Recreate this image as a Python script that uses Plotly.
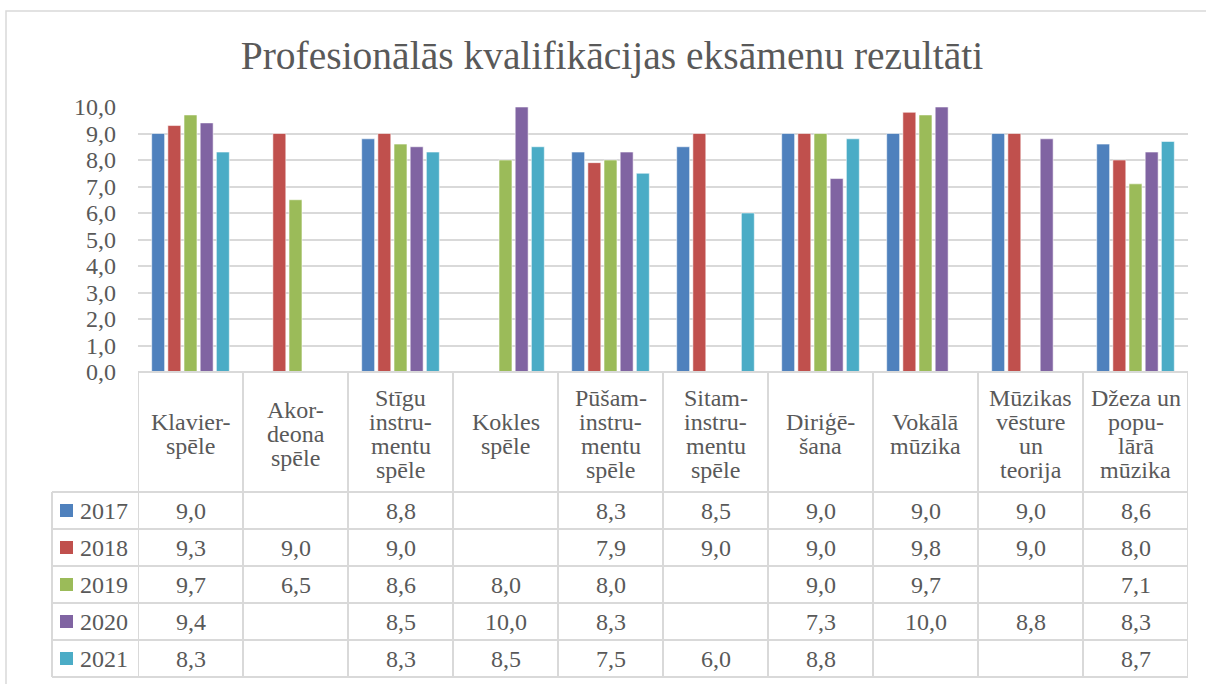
import plotly.graph_objects as go

# ---- data ----
categories = ["Klavierspēle", "Akordeona spēle", "Stīgu instrumentu spēle", "Kokles spēle",
              "Pūšaminstrumentu spēle", "Sitaminstrumentu spēle", "Diriģēšana",
              "Vokālā mūzika", "Mūzikas vēsture un teorija", "Džeza un populārā mūzika"]
header_labels = ["Klavier-<br>spēle", "Akor-<br>deona<br>spēle", "Stīgu<br>instru-<br>mentu<br>spēle",
                 "Kokles<br>spēle", "Pūšam-<br>instru-<br>mentu<br>spēle",
                 "Sitam-<br>instru-<br>mentu<br>spēle", "Diriģē-<br>šana", "Vokālā<br>mūzika",
                 "Mūzikas<br>vēsture<br>un<br>teorija", "Džeza un<br>popu-<br>lārā<br>mūzika"]
years = ["2017", "2018", "2019", "2020", "2021"]
v2017 = [9.0, None, 8.8, None, 8.3, 8.5, 9.0, 9.0, 9.0, 8.6]
v2018 = [9.3, 9.0, 9.0, None, 7.9, 9.0, 9.0, 9.8, 9.0, 8.0]
v2019 = [9.7, 6.5, 8.6, 8.0, 8.0, None, 9.0, 9.7, None, 7.1]
v2020 = [9.4, None, 8.5, 10.0, 8.3, None, 7.3, 10.0, 8.8, 8.3]
v2021 = [8.3, None, 8.3, 8.5, 7.5, 6.0, 8.8, None, None, 8.7]
series = [v2017, v2018, v2019, v2020, v2021]
colors = ["#4F81BD", "#C0504D", "#9BBB59", "#8064A2", "#4BACC6"]
y_ticks = [0, 1, 2, 3, 4, 5, 6, 7, 8, 9, 10]
title_text = "Profesionālās kvalifikācijas eksāmenu rezultāti"

# ---- layout geometry (pixels) ----
W, H = 1206, 684
L, R, T, B = 138, 18, 107, 312
PH = H - T - B
PW = W - L - R
FONT = "Liberation Serif"
TXT = "#595959"
GRID = "#D9D9D9"
FS = 24


def py(ypx):
    return (H - B - ypx) / PH


def px(xpx):
    return (xpx - L) / PW


fig = go.Figure()
for yr, vals, col in zip(years, series, colors):
    fig.add_trace(go.Bar(x=categories, y=vals, name=yr, marker_color=col,
                         marker_line=dict(color="rgba(255,255,255,0.55)", width=1)))

shapes = []
annotations = []

# outer chart frame
shapes.append(dict(type="rect", xref="paper", yref="paper", x0=px(6), x1=px(1215),
                   y0=py(11), y1=py(700), line=dict(color=GRID, width=1.5), layer="below"))

# table geometry
header_top, header_bot = 372, 492
row_edges = [492, 529, 566, 603, 640, 677]
legend_left = 52
n = len(categories)

for k in range(n + 1):
    shapes.append(dict(type="line", xref="x", yref="paper", x0=k - 0.5, x1=k - 0.5,
                       y0=py(header_top), y1=py(row_edges[-1]), line=dict(color=GRID, width=2)))
shapes.append(dict(type="line", xref="paper", yref="paper", x0=px(legend_left), x1=px(legend_left),
                   y0=py(row_edges[0]), y1=py(row_edges[-1]), line=dict(color=GRID, width=2)))
shapes.append(dict(type="line", xref="x", yref="paper", x0=-0.5, x1=n - 0.5,
                   y0=py(header_top), y1=py(header_top), line=dict(color=GRID, width=2)))
for ye in row_edges:
    shapes.append(dict(type="line", xref="paper", yref="paper", x0=px(legend_left), x1=1,
                       y0=py(ye), y1=py(ye), line=dict(color=GRID, width=2)))

# header labels: one annotation per line, 24px line pitch, vertically centred
LINE = 24
hc = (header_top + header_bot) / 2 + 2
for i, lab in enumerate(header_labels):
    lines = lab.split("<br>")
    m = len(lines)
    for j, ln in enumerate(lines):
        yc = hc + (j - (m - 1) / 2) * LINE
        annotations.append(dict(x=i, xref="x", y=py(yc), yref="paper",
                                text=ln, showarrow=False, xanchor="center", yanchor="middle",
                                font=dict(family=FONT, size=FS, color=TXT)))

# rows
for r, (yr, vals, col) in enumerate(zip(years, series, colors)):
    yc = (row_edges[r] + row_edges[r + 1]) / 2
    shapes.append(dict(type="rect", xref="paper", yref="paper", x0=px(60), x1=px(73),
                       y0=py(yc - 6.5), y1=py(yc + 6.5), fillcolor=col, line=dict(width=0)))
    annotations.append(dict(x=px(78), xref="paper", y=py(yc), yref="paper", text=yr,
                            showarrow=False, xanchor="left", yanchor="middle",
                            font=dict(family=FONT, size=FS, color=TXT)))
    for i, v in enumerate(vals):
        if v is None:
            continue
        annotations.append(dict(x=i, xref="x", y=py(yc), yref="paper",
                                text=f"{v:.1f}".replace(".", ","), showarrow=False,
                                xanchor="center", yanchor="middle",
                                font=dict(family=FONT, size=FS, color=TXT)))

fig.update_layout(
    width=W, height=H,
    margin=dict(l=L, r=R, t=T, b=B),
    paper_bgcolor="white", plot_bgcolor="white",
    barmode="group", bargap=0.23, bargroupgap=0.2,
    showlegend=False,
    separators=", ",
    title=dict(text=title_text, xref="container", yref="container", x=612 / W, y=1 - 55 / H,
               xanchor="center", yanchor="middle",
               font=dict(family=FONT, size=39.5, color=TXT)),
    shapes=shapes, annotations=annotations,
)
fig.update_xaxes(showticklabels=False, showgrid=False, zeroline=False, showline=False,
                 range=[-0.5, n - 0.5])
fig.update_yaxes(range=[0, 10], tickvals=y_ticks, tickformat=".1f", showgrid=True,
                 gridcolor=GRID, gridwidth=1.5, zeroline=False, showline=False,
                 ticks="", ticklabelstandoff=21,
                 tickfont=dict(family=FONT, size=FS, color=TXT))

fig.write_html("out.html", config={"displayModeBar": False},
               post_script="document.body.style.margin='0';")
